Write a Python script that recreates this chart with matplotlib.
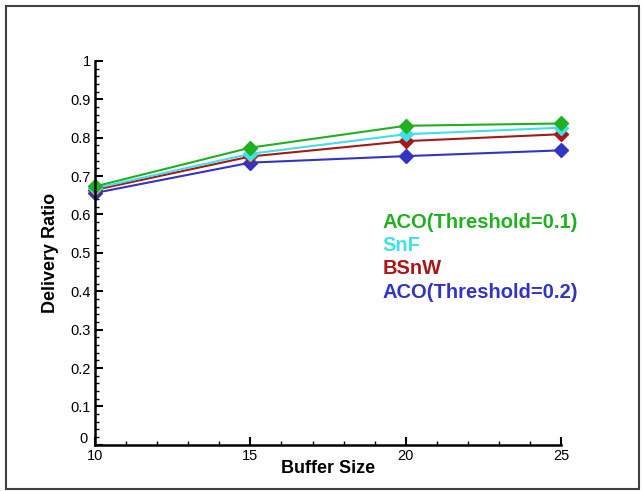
import numpy as np
import matplotlib
matplotlib.use("Agg")
from matplotlib import pyplot as plt
from matplotlib.ticker import MultipleLocator
from matplotlib.patches import Rectangle
from matplotlib.transforms import ScaledTranslation

plt.rcParams['font.family'] = ['Liberation Sans', 'DejaVu Sans']

# buffer sizes on the x axis
buffer_size = [10, 15, 20, 25]

# delivery ratio per protocol
aco_01 = [0.673, 0.774, 0.831, 0.837]
snf = [0.668, 0.758, 0.809, 0.826]
bsnw = [0.664, 0.751, 0.791, 0.809]
aco_02 = [0.656, 0.735, 0.752, 0.767]

names = ["ACO(Threshold=0.1)", "SnF", "BSnW", "ACO(Threshold=0.2)"]
colors = ["#20b020", "#40e0e8", "#a81818", "#3434c4"]
series = [aco_01, snf, bsnw, aco_02]

fig = plt.figure(figsize=(6.42, 4.91), dpi=100)
ax = fig.add_axes([0.148, 0.094, 0.726, 0.782])

# draw lower ones first so green ends up on top
for vals, c in zip(series[::-1], colors[::-1]):
    ax.plot(buffer_size, vals, color=c, lw=1.5, marker='D', markersize=7,
            markeredgecolor=c, clip_on=False)

ax.set_xlim(10, 25)
ax.set_ylim(0, 1)
ax.xaxis.set_major_locator(MultipleLocator(5))
ax.xaxis.set_minor_locator(MultipleLocator(1))
ax.yaxis.set_minor_locator(MultipleLocator(0.02))
ax.set_yticks(np.arange(0, 1.01, 0.1))
ax.set_yticklabels(["0", "0.1", "0.2", "0.3", "0.4", "0.5", "0.6", "0.7", "0.8", "0.9", "1"])

for s in ["top", "right"]:
    ax.spines[s].set_visible(False)
for s in ["left", "bottom"]:
    ax.spines[s].set_linewidth(1.8)

ax.tick_params(which='major', direction='in', length=6, width=1.5, labelsize=10.5, pad=3)
ax.tick_params(which='minor', direction='in', length=3, width=1)

# the "0" sits a bit higher so it clears the "10"
lbl0 = ax.get_yticklabels()[0]
lbl0.set_transform(lbl0.get_transform() + ScaledTranslation(-2/72, 5/72, fig.dpi_scale_trans))

ax.set_xlabel("Buffer Size", fontsize=13, fontweight='bold', labelpad=-2)
ax.set_ylabel("Delivery Ratio", fontsize=13, fontweight='bold', labelpad=8)

# coloured text legend
for i, (n, c) in enumerate(zip(names, colors)):
    ax.text(0.617, 0.578 - i * 0.06, n, color=c, fontsize=14.5, fontweight='bold',
            transform=ax.transAxes, va='center', ha='left')

# outer frame around the whole image
fig.patches.append(Rectangle((0.009, 0.004), 0.987, 0.984, transform=fig.transFigure,
                             fill=False, edgecolor='#404040', lw=1.5))

fig.savefig("out.png", dpi=100)
